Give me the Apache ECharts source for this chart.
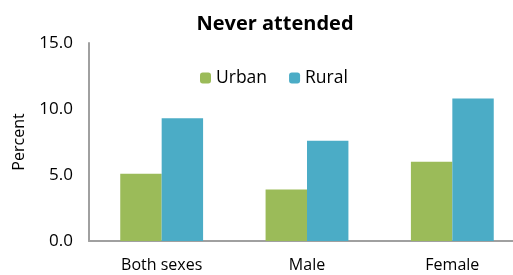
<!DOCTYPE html>
<html><head><meta charset="utf-8">
<script src="https://cdn.jsdelivr.net/npm/echarts@6/dist/echarts.min.js"></script>
<style>html,body{margin:0;padding:0;background:#fff}#c{width:513px;height:275px}</style>
</head><body><div id="c"></div>
<script>
const categories = ['Both sexes', 'Male', 'Female'];
const urban = [5.1, 3.9, 6.0];
const rural = [9.3, 7.6, 10.8];
const yTicks = [0, 5, 10, 15];

const font = 'Open Sans, Liberation Sans, sans-serif';
const chart = echarts.init(document.getElementById('c'), null, {renderer: 'canvas'});
chart.setOption({
  animation: false,
  title: {text: 'Never attended', left: 270, textAlign: 'center', top: 9,
    textStyle: {fontFamily: font, fontWeight: 'bold', fontSize: 20, color: '#000'}},
  legend: {top: 64, left: 195, itemWidth: 11, itemHeight: 11, itemGap: 22,
    textStyle: {fontFamily: font, fontSize: 17.5, color: '#000'},
    data: ['Urban', 'Rural']},
  grid: {left: 89, top: 43, width: 436, height: 198, outerBoundsMode: 'none', containLabel: false},
  xAxis: {type: 'category', data: categories,
    axisLine: {lineStyle: {color: '#a0a0a0', width: 2}},
    axisTick: {show: false},
    axisLabel: {fontFamily: font, fontSize: 16, color: '#000', margin: 16}},
  yAxis: {type: 'value', min: yTicks[0], max: yTicks[yTicks.length - 1], interval: 5,
    name: 'Percent', nameLocation: 'middle', nameGap: 62, nameRotate: 90,
    nameTextStyle: {fontFamily: font, fontSize: 16, color: '#000'},
    axisLine: {show: true, lineStyle: {color: '#a0a0a0', width: 2}},
    axisTick: {show: false}, splitLine: {show: false},
    axisLabel: {fontFamily: font, fontSize: 17, color: '#000', margin: 16,
      formatter: v => v.toFixed(1)}},
  series: [
    {name: 'Urban', type: 'bar', data: urban, barGap: '0%', barCategoryGap: '43%',
      itemStyle: {color: '#9BBB59'}},
    {name: 'Rural', type: 'bar', data: rural, barGap: '0%', barCategoryGap: '43%',
      itemStyle: {color: '#4BACC6'}}
  ]
});
</script></body></html>
